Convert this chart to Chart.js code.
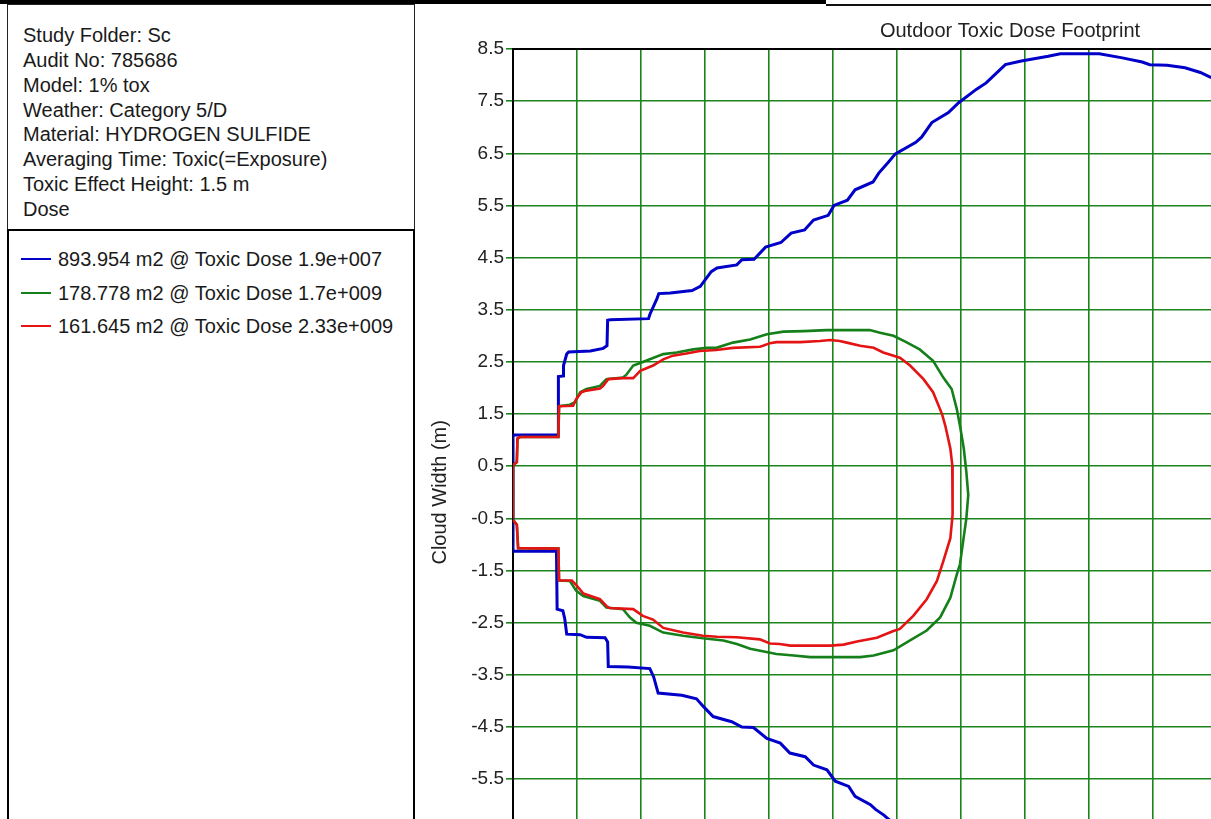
<!DOCTYPE html>
<html>
<head>
<meta charset="utf-8">
<script src="https://cdn.jsdelivr.net/npm/chart.js@4.4.1/dist/chart.umd.min.js"></script>
<style>
  html, body { margin:0; padding:0; background:#fff; }
  body { width:1211px; height:819px; overflow:hidden; position:relative; font-family:"Liberation Sans", Arial, sans-serif; color:#1a1a1a; }
  #topbar { position:absolute; left:0; top:0; width:826px; height:4px; background:#000; z-index:3; }
  #topline { position:absolute; left:826px; top:4px; width:385px; height:2px; background:#111; z-index:3; }
  #info { position:absolute; left:7px; top:4px; width:406px; height:225px; border:1px solid #222; box-sizing:content-box; z-index:2; }
  #info div { position:absolute; left:15px; font-size:20px; line-height:24px; white-space:nowrap; }
  #legend { position:absolute; left:7px; top:229px; width:404px; height:640px; border:2px solid #000; z-index:2; }
  .item { position:absolute; left:0; height:24px; white-space:nowrap; font-size:20px; line-height:24px; }
  .item .ln { position:absolute; left:12px; top:11px; width:30px; height:2px; }
  .item .tx { position:absolute; left:49px; top:0; }
  #c { position:absolute; left:420px; top:0; }
</style>
</head>
<body>
<div id="topbar"></div>
<div id="topline"></div>
<div id="info"></div>
<div id="legend"></div>
<canvas id="c" width="1180" height="949"></canvas>
<script>
// ---- text content ----
const chartTitle = 'Outdoor Toxic Dose Footprint';
const yAxisTitle = 'Cloud Width (m)';
const infoLines = [
  'Study Folder: Sc',
  'Audit No: 785686',
  'Model: 1% tox',
  'Weather: Category 5/D',
  'Material: HYDROGEN SULFIDE',
  'Averaging Time: Toxic(=Exposure)',
  'Toxic Effect Height: 1.5 m',
  'Dose'
];
const seriesLabels = [
  '893.954 m2 @ Toxic Dose 1.9e+007',
  '178.778 m2 @ Toxic Dose 1.7e+009',
  '161.645 m2 @ Toxic Dose 2.33e+009'
];

// ---- tick values ----
const yTickValues = [8.5, 7.5, 6.5, 5.5, 4.5, 3.5, 2.5, 1.5, 0.5, -0.5, -1.5, -2.5, -3.5, -4.5, -5.5, -6.5, -7.5, -8.5];
const xGridValues = [0, 1, 2, 3, 4, 5, 6, 7, 8, 9, 10, 11, 12, 13, 14, 15, 16, 17];

// ---- series: 893.954 m2 contour (blue) ----
const blueX = [10.92, 10.75, 10.51, 10.23, 9.96, 9.84, 9.53, 9.17, 8.56, 8.37, 7.95, 7.70, 7.40, 7.25, 6.97, 6.81, 6.55, 6.39, 6.30, 5.98, 5.87, 5.72, 5.63, 5.35, 5.23, 5.02, 4.93, 4.70, 4.56, 4.35, 4.19, 3.95, 3.77, 3.58, 3.50, 3.19, 3.10, 2.93, 2.80, 2.46, 2.28, 2.25, 2.14, 2.12, 1.52, 1.48, 1.47, 1.41, 1.21, 0.87, 0.84, 0.79, 0.79, 0.71, 0.71, 0, 0, 0.68, 0.69, 0.78, 0.81, 0.84, 1.05, 1.15, 1.44, 1.48, 1.49, 1.80, 2.14, 2.20, 2.27, 2.64, 2.87, 2.98, 3.13, 3.42, 3.58, 3.76, 3.97, 4.18, 4.33, 4.57, 4.70, 4.91, 5.04, 5.25, 5.35, 5.59, 5.67, 5.80, 5.95];
const blueY = [7.95, 8.05, 8.14, 8.19, 8.20, 8.25, 8.33, 8.41, 8.41, 8.36, 8.27, 8.20, 7.85, 7.73, 7.47, 7.28, 7.09, 6.81, 6.71, 6.49, 6.33, 6.12, 5.95, 5.80, 5.60, 5.50, 5.31, 5.22, 5.03, 4.97, 4.79, 4.70, 4.47, 4.46, 4.36, 4.30, 4.23, 3.95, 3.87, 3.82, 3.81, 3.71, 3.41, 3.33, 3.31, 3.30, 2.81, 2.76, 2.71, 2.69, 2.65, 2.43, 2.23, 2.22, 1.10, 1.10, -1.13, -1.13, -2.24, -2.27, -2.43, -2.72, -2.73, -2.78, -2.79, -2.87, -3.34, -3.35, -3.38, -3.54, -3.85, -3.89, -3.96, -4.11, -4.30, -4.40, -4.50, -4.51, -4.72, -4.81, -5.00, -5.07, -5.23, -5.32, -5.54, -5.64, -5.83, -5.99, -6.08, -6.19, -6.35];

// ---- series: 178.778 m2 contour (green) ----
const greenX = [0, 0, 0.06, 0.07, 0.11, 0.71, 0.72, 0.89, 0.97, 1.05, 1.15, 1.36, 1.46, 1.72, 1.77, 1.88, 1.99, 2.14, 2.35, 2.56, 2.82, 3.03, 3.18, 3.44, 3.71, 3.97, 4.23, 4.55, 4.90, 5.58, 5.74, 5.95, 6.15, 6.36, 6.57, 6.73, 6.86, 6.94, 6.99, 7.05, 7.09, 7.12, 7.09, 7.04, 6.99, 6.94, 6.84, 6.68, 6.47, 6.21, 5.95, 5.64, 5.43, 4.65, 4.39, 4.12, 3.71, 3.50, 3.29, 2.97, 2.66, 2.35, 2.14, 1.93, 1.83, 1.72, 1.46, 1.36, 1.10, 0.99, 0.89, 0.72, 0.71, 0.08, 0.06, 0];
const greenY = [-0.50, 0.52, 0.58, 1.03, 1.06, 1.06, 1.65, 1.68, 1.73, 1.92, 1.98, 2.04, 2.17, 2.20, 2.25, 2.43, 2.48, 2.55, 2.65, 2.68, 2.74, 2.77, 2.77, 2.87, 2.93, 3.03, 3.08, 3.09, 3.11, 3.11, 3.06, 3.00, 2.88, 2.74, 2.52, 2.20, 1.98, 1.60, 1.28, 0.84, 0.39, -0.05, -0.50, -0.94, -1.38, -1.58, -2.02, -2.40, -2.65, -2.84, -3.03, -3.13, -3.16, -3.16, -3.13, -3.10, -3.00, -2.91, -2.84, -2.80, -2.75, -2.69, -2.56, -2.50, -2.40, -2.24, -2.21, -2.08, -1.99, -1.89, -1.70, -1.69, -1.08, -1.07, -0.62, -0.53];

// ---- series: 161.645 m2 contour (red) ----
const redX = [0, 0, 0.06, 0.07, 0.11, 0.71, 0.72, 0.94, 0.99, 1.07, 1.15, 1.36, 1.41, 1.49, 1.72, 1.88, 1.93, 1.99, 2.19, 2.35, 2.50, 2.71, 2.92, 3.18, 3.44, 3.86, 3.91, 4.02, 4.12, 4.49, 4.80, 4.96, 5.11, 5.22, 5.43, 5.64, 5.79, 6.05, 6.21, 6.42, 6.57, 6.71, 6.76, 6.84, 6.87, 6.88, 6.87, 6.84, 6.73, 6.63, 6.47, 6.26, 6.05, 5.95, 5.69, 5.38, 5.17, 4.96, 4.34, 4.17, 4.02, 3.86, 3.50, 3.19, 2.97, 2.66, 2.35, 2.19, 2.03, 1.88, 1.51, 1.46, 1.36, 1.10, 0.99, 0.92, 0.72, 0.71, 0.08, 0.06, 0];
const redY = [-0.50, 0.52, 0.58, 1.03, 1.06, 1.06, 1.65, 1.66, 1.79, 1.92, 1.95, 1.99, 2.04, 2.17, 2.19, 2.19, 2.25, 2.33, 2.43, 2.55, 2.62, 2.66, 2.71, 2.73, 2.77, 2.79, 2.81, 2.86, 2.88, 2.88, 2.90, 2.92, 2.90, 2.87, 2.81, 2.77, 2.68, 2.58, 2.43, 2.17, 1.92, 1.50, 1.28, 0.84, 0.52, -0.11, -0.43, -0.88, -1.32, -1.70, -2.05, -2.37, -2.62, -2.66, -2.79, -2.86, -2.92, -2.94, -2.94, -2.91, -2.90, -2.82, -2.78, -2.77, -2.75, -2.69, -2.60, -2.44, -2.37, -2.24, -2.22, -2.18, -2.05, -1.94, -1.78, -1.69, -1.69, -1.08, -1.07, -0.62, -0.53];

const seriesColors = ['#0000c8', '#15801a', '#e41414'];
const gridColor = 'rgb(28,132,28)';
const FONT = '"Liberation Sans", Arial, sans-serif';

// ---- HTML info & legend ----
const info = document.getElementById('info');
infoLines.forEach((t, i) => {
  const d = document.createElement('div');
  d.textContent = t;
  d.style.top = (18 + i * 24.85) + 'px';
  info.appendChild(d);
});
const legend = document.getElementById('legend');
seriesLabels.forEach((t, i) => {
  const it = document.createElement('div');
  it.className = 'item';
  it.style.top = (16 + i * 33.5) + 'px';
  it.innerHTML = '<span class="ln"></span><span class="tx"></span>';
  it.querySelector('.ln').style.background = seriesColors[i];
  it.querySelector('.tx').textContent = t;
  legend.appendChild(it);
});

const pts = (xs, ys) => xs.map((x, i) => ({x: x, y: ys[i]}));

const framePlugin = {
  id: 'frame',
  beforeDatasetsDraw(chart) {
    const {ctx, chartArea: a} = chart;
    ctx.save();
    ctx.strokeStyle = '#000';
    ctx.lineWidth = 2;
    ctx.strokeRect(a.left, a.top, a.right - a.left, a.bottom - a.top);
    ctx.restore();
  }
};

new Chart(document.getElementById('c').getContext('2d'), {
  type: 'line',
  data: {
    datasets: [
      {label: seriesLabels[0], data: pts(blueX, blueY), borderColor: seriesColors[0], borderWidth: 3, order: 2},
      {label: seriesLabels[1], data: pts(greenX, greenY), borderColor: seriesColors[1], borderWidth: 2.6, order: 1},
      {label: seriesLabels[2], data: pts(redX, redY), borderColor: seriesColors[2], borderWidth: 2.6, order: 0}
    ]
  },
  options: {
    responsive: false,
    animation: false,
    devicePixelRatio: 1,
    layout: {padding: 0},
    elements: {point: {radius: 0, hoverRadius: 0}, line: {tension: 0, fill: false}},
    plugins: {
      legend: {display: false},
      tooltip: {enabled: false},
      title: {display: true, text: chartTitle, color: '#222', font: {family: FONT, size: 20, weight: 'normal'}, padding: {top: 19, bottom: 6}}
    },
    scales: {
      x: {
        type: 'linear', min: 0, max: 17,
        afterBuildTicks: s => { s.ticks = xGridValues.map(v => ({value: v})); },
        ticks: {display: false},
        grid: {color: gridColor, lineWidth: 1.6, tickLength: 7},
        border: {display: false}
      },
      y: {
        type: 'linear', min: -8.5, max: 8.5,
        afterBuildTicks: s => { s.ticks = yTickValues.map(v => ({value: v})); },
        afterFit: s => { s.width = 93; },
        ticks: {color: '#222', padding: 2, font: {family: FONT, size: 19}, callback: v => Number(v).toFixed(1)},
        grid: {color: gridColor, lineWidth: 1.6, tickLength: 7},
        border: {display: false},
        title: {display: true, text: yAxisTitle, color: '#222', font: {family: FONT, size: 20}, padding: {top: 8, bottom: 0}}
      }
    }
  },
  plugins: [framePlugin]
});
</script>
</body>
</html>
